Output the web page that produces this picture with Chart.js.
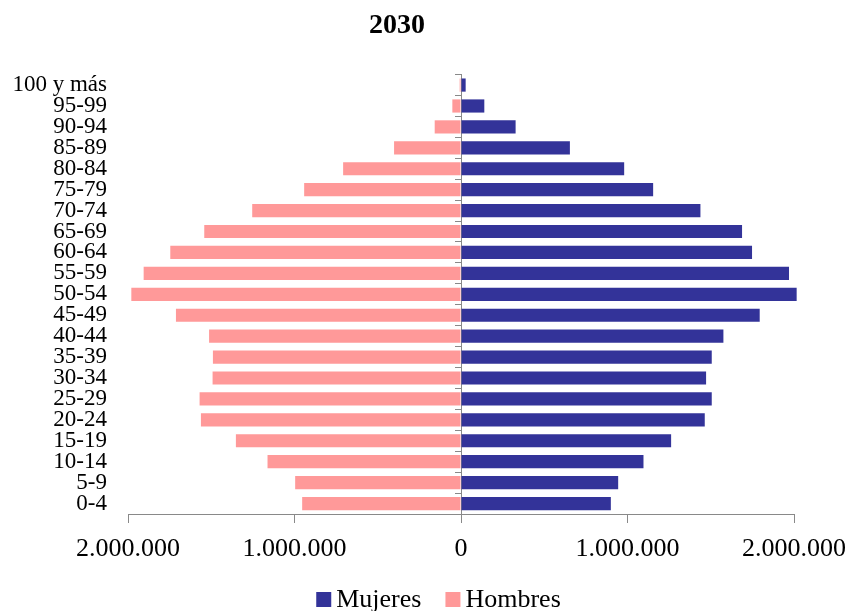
<!DOCTYPE html>
<html>
<head>
<meta charset="utf-8">
<title>2030</title>
<script src="https://cdn.jsdelivr.net/npm/chart.js@4/dist/chart.umd.min.js"></script>
<style>
  html, body { margin: 0; padding: 0; background: #fff; }
  #wrap { width: 863px; height: 611px; }
</style>
</head>
<body>
<div id="wrap"><canvas id="c" width="863" height="611"></canvas></div>
<script>
// Age groups, youngest first
const ageGroups = ['0-4', '5-9', '10-14', '15-19', '20-24', '25-29', '30-34', '35-39',
  '40-44', '45-49', '50-54', '55-59', '60-64', '65-69', '70-74', '75-79', '80-84',
  '85-89', '90-94', '95-99', '100 y más'];

// Population by age group (persons)
const mujeres = [900000, 944000, 1096000, 1262000, 1464000, 1506000, 1472000, 1506000,
  1576000, 1794000, 2016000, 1970000, 1748000, 1688000, 1438000, 1154000, 980000,
  654000, 328000, 140000, 28000];
const hombres = [954000, 996000, 1162000, 1352000, 1562000, 1570000, 1492000, 1490000,
  1513000, 1712000, 1980000, 1906000, 1746000, 1542000, 1254000, 942000, 708000,
  402000, 158000, 52000, 8000];

// Horizontal axis ticks
const axisTicks = [-2000000, -1000000, 0, 1000000, 2000000];

const serif = "'Liberation Serif', 'Times New Roman', serif";
const axisGray = '#898989';

function fmtThousands(v) {
  return String(Math.round(Math.abs(v))).replace(/\B(?=(\d{3})+(?!\d))/g, '.');
}

// Legend row under the axis: square swatch, short gap, series name
const bottomLegend = {
  id: 'bottomLegend',
  afterDraw(chart) {
    const ctx = chart.ctx;
    const box = 15, gap = 5, spacing = 24;
    const baseline = 607;
    ctx.save();
    ctx.font = '26px ' + serif;
    const items = chart.data.datasets.map(ds => ({
      text: ds.label, color: ds.backgroundColor, w: ctx.measureText(ds.label).width
    }));
    const total = items.reduce((s, it) => s + box + gap + it.w, 0) + spacing * (items.length - 1);
    let x = chart.width / 2 + 7 - total / 2;
    ctx.textBaseline = 'alphabetic';
    ctx.textAlign = 'left';
    items.forEach(it => {
      ctx.fillStyle = it.color;
      ctx.fillRect(x, baseline - box, box, box);
      ctx.fillStyle = '#000';
      ctx.fillText(it.text, x + box + gap, baseline);
      x += box + gap + it.w + spacing;
    });
    ctx.restore();
  }
};

new Chart(document.getElementById('c'), {
  type: 'bar',
  data: {
    labels: ageGroups,
    datasets: [
      { label: 'Mujeres', data: mujeres, backgroundColor: '#333399',
        barPercentage: 0.63, categoryPercentage: 1.0, clip: false },
      { label: 'Hombres', data: hombres.map(v => -v), backgroundColor: '#FF9999',
        barPercentage: 0.63, categoryPercentage: 1.0, clip: false }
    ]
  },
  options: {
    indexAxis: 'y',
    responsive: false,
    animation: false,
    layout: { padding: { left: 0, right: 69, top: 0, bottom: 45 } },
    scales: {
      x: {
        stacked: true,
        min: -2000000,
        max: 2000000,
        afterBuildTicks(scale) { scale.ticks = axisTicks.map(v => ({ value: v })); },
        afterFit(scale) { scale.height = 52; },
        ticks: {
          color: '#000',
          font: { family: serif, size: 26 },
          padding: 11,
          maxRotation: 0,
          callback: v => fmtThousands(v)
        },
        grid: { drawOnChartArea: false, color: axisGray, tickLength: 9 },
        border: { display: true, color: axisGray }
      },
      y: {
        stacked: true,
        reverse: true,
        afterFit(scale) { scale.width = 128; },
        ticks: { color: '#000', font: { family: serif, size: 23 }, padding: 21, autoSkip: false },
        grid: { display: false, drawTicks: false },
        border: { display: false }
      },
      yZero: {
        axis: 'y',
        type: 'category',
        position: { x: 0 },
        reverse: true,
        offset: true,
        ticks: { display: false },
        grid: { offset: true, drawOnChartArea: false, color: axisGray, tickLength: 6 },
        border: { display: true, color: axisGray }
      }
    },
    plugins: {
      title: {
        display: true,
        text: '2030',
        color: '#000',
        font: { family: serif, size: 28, weight: 'bold' },
        padding: { top: 9, bottom: 32 }
      },
      legend: { display: false },
      tooltip: { enabled: false }
    }
  },
  plugins: [bottomLegend]
});
</script>
</body>
</html>
